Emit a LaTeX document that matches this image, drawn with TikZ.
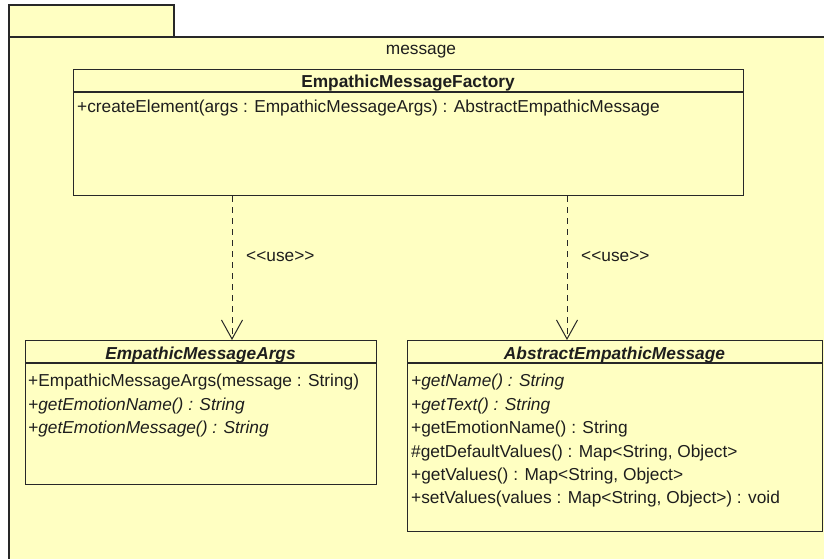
\documentclass[tikz,border=0pt]{standalone}
\usepackage{fontspec}
\setmainfont{Liberation Sans}
\usetikzlibrary{arrows.meta}
\definecolor{umlfill}{RGB}{255,255,194}
\definecolor{umlline}{RGB}{40,40,40}
\definecolor{umltext}{RGB}{30,30,30}
\tikzset{
  umlbox/.style={draw=umlline, fill=umlfill, line width=1.3pt, inner sep=0pt, anchor=north west},
  sepline/.style={draw=umlline, line width=1.3pt},
  txt/.style={inner sep=0pt, anchor=base west, text=umltext, font=\fontsize{17.3}{20}\selectfont},
  ttl/.style={inner sep=0pt, anchor=base, text=umltext, font=\fontsize{17.3}{20}\selectfont\bfseries},
  dep/.style={draw=umlline, line width=1pt, dash pattern=on 6pt off 5pt, -{Straight Barb[length=19pt,width=21pt,line width=1pt]}},
}
\begin{document}
\begin{tikzpicture}[x=1pt,y=-1pt]
\useasboundingbox (0,0) rectangle (824,558);
\begin{scope}
\clip (0,0) rectangle (824,558);
% package
\draw[umlbox] (9,5) rectangle (174,37);
\draw[umlbox] (9,37) rectangle (840,570);
\end{scope}
\node[inner sep=0pt, anchor=base, text=umltext, font=\fontsize{17.3}{20}\selectfont] (pkg) at (421,54) {message};

% Factory
\node[umlbox, minimum width=670pt, minimum height=126pt] (fac) at (73,69) {};
\draw[sepline] (73,92) -- (743,92);
\node[ttl] (facT) at (408,87) {EmpathicMessageFactory};
\node[txt] (facA) at (77,112) {+createElement(args : EmpathicMessageArgs) : AbstractEmpathicMessage};

% Args
\node[umlbox, minimum width=351pt, minimum height=144pt] (args) at (25,340) {};
\draw[sepline] (25,363) -- (376,363);
\node[ttl] (argsT) at (200.5,359) {\itshape EmpathicMessageArgs};
\node[txt] (argsA) at (28,386) {+EmpathicMessageArgs(message : String)};
\node[txt] (argsB) at (28,410) {\itshape +getEmotionName() : String};
\node[txt] (argsC) at (28,433) {\itshape +getEmotionMessage() : String};

% Abstract
\node[umlbox, minimum width=415pt, minimum height=191pt] (abs) at (407,340) {};
\draw[sepline] (407,363) -- (822,363);
\node[ttl] (absT) at (614.5,359) {\itshape AbstractEmpathicMessage};
\node[txt] (absA) at (411,386) {\itshape +getName() : String};
\node[txt] (absB) at (411,410) {\itshape +getText() : String};
\node[txt] (absC) at (411,433) {+getEmotionName() : String};
\node[txt] (absD) at (411,457) {\#getDefaultValues() : Map<String, Object>};
\node[txt] (absE) at (411,480) {+getValues() : Map<String, Object>};
\node[txt] (absF) at (411,503) {+setValues(values : Map<String, Object>) : void};

% dependencies
\coordinate (ua) at (232,340);
\coordinate (ub) at (567,340);
\draw[dep] (fac.south -| ua) -- (args.north -| ua);
\draw[dep] (fac.south -| ub) -- (abs.north -| ub);
\node[txt] (lua) at (246,261) {<{}<use>{}>};
\node[txt] (lub) at (581,261) {<{}<use>{}>};
\end{tikzpicture}
\end{document}
